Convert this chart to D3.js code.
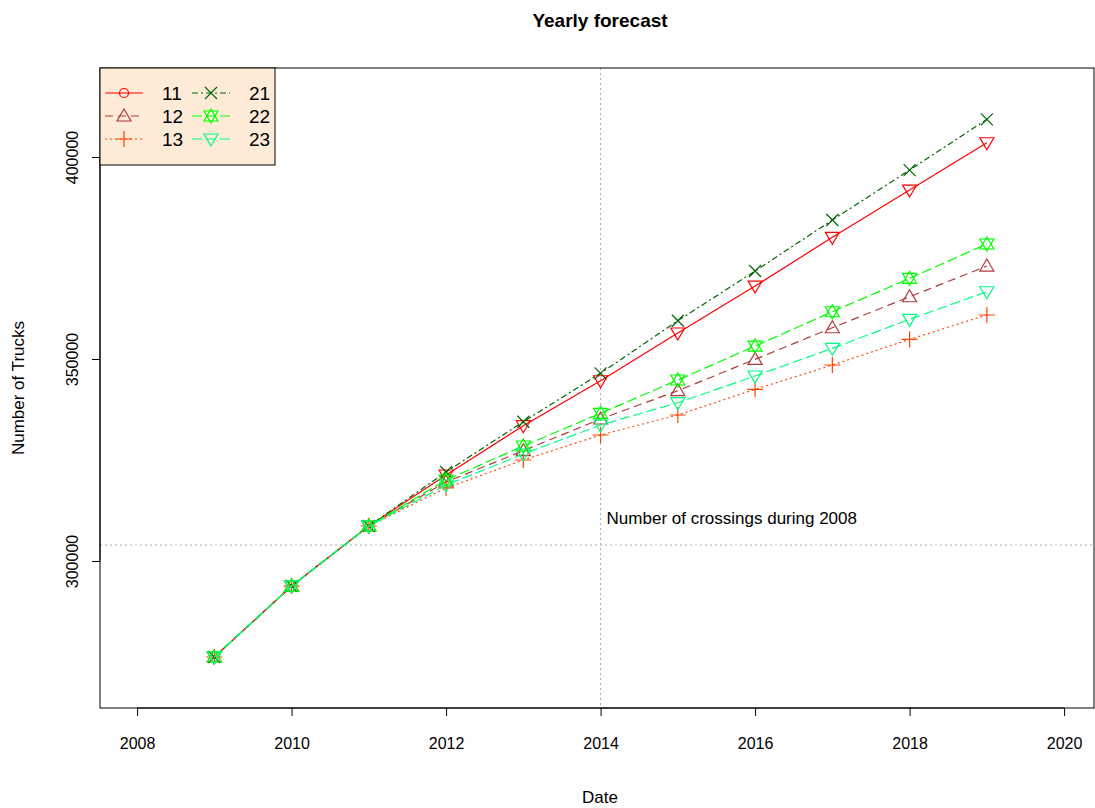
<!DOCTYPE html>
<html><head><meta charset="utf-8">
<script src="https://cdn.jsdelivr.net/npm/d3@7"></script>
<style>body{margin:0;background:#fff}text{font-family:"Liberation Sans",Arial,sans-serif}</style>
</head><body>
<script>
// data
var years = [2009,2010,2011,2012,2013,2014,2015,2016,2017,2018,2019];
var base = [276240,293800,308660];
var s11 = base.concat([321290,333490,344620,356430,368060,380120,391820,403530]);
var s12 = base.concat([319550,327300,335150,342150,349920,357740,365410,373010]);
var s13 = base.concat([318070,325000,331190,336140,342500,348510,354870,360890]);
var s21 = base.concat([322030,334480,346460,359470,371780,384400,396770,409320]);
var s22 = base.concat([320050,328460,336560,344800,353210,361700,369970,378460]);
var s23 = base.concat([318810,326480,333660,339180,345790,352640,359820,366650]);
var xTicks = [2008,2010,2012,2014,2016,2018,2020];
var yTicks = [300000,350000,400000];
var crossings2008 = 303960, refYear = 2014;

var series = [
  {name:"11", v:s11, color:"#ff0000", dash:null, mark:"tridown", legMark:"circle"},
  {name:"12", v:s12, color:"#b03a3a", dash:"8,5", mark:"triup"},
  {name:"13", v:s13, color:"#ff4500", dash:"2,3", mark:"plus"},
  {name:"21", v:s21, color:"#006400", dash:"6,3,2,3", mark:"x"},
  {name:"22", v:s22, color:"#00ff00", dash:"10,4", mark:"star"},
  {name:"23", v:s23, color:"#00ff7f", dash:"10,4", mark:"tridown"}
];

var W = 1095, H = 808;
var pL = 100, pT = 68, pR = 1095, pB = 708;
var svg = d3.select("body").append("svg").attr("width",W).attr("height",H);

var x = d3.scaleLinear().domain([2007.52,2020.4]).range([pL,pR]);
var y = d3.scaleLinear().domain([263614,422030]).range([pB,pT]);

function marker(g, type, cx, cy, color){
  var r = 6;
  if(type=="circle") g.append("circle").attr("cx",cx).attr("cy",cy).attr("r",4.5);
  else if(type=="triup") g.append("path").attr("d","M"+cx+","+(cy-7)+"L"+(cx+7)+","+(cy+5)+"L"+(cx-7)+","+(cy+5)+"Z");
  else if(type=="tridown") g.append("path").attr("d","M"+cx+","+(cy+7)+"L"+(cx+7)+","+(cy-5)+"L"+(cx-7)+","+(cy-5)+"Z");
  else if(type=="plus") g.append("path").attr("d","M"+(cx-8)+","+cy+"H"+(cx+8)+"M"+cx+","+(cy-8)+"V"+(cy+8));
  else if(type=="x") g.append("path").attr("d","M"+(cx-r)+","+(cy-r)+"L"+(cx+r)+","+(cy+r)+"M"+(cx-r)+","+(cy+r)+"L"+(cx+r)+","+(cy-r));
  else if(type=="star"){
    g.append("path").attr("d","M"+cx+","+(cy-7)+"L"+(cx+7)+","+(cy+5)+"L"+(cx-7)+","+(cy+5)+"Z");
    g.append("path").attr("d","M"+cx+","+(cy+7)+"L"+(cx+7)+","+(cy-5)+"L"+(cx-7)+","+(cy-5)+"Z");
  }
  g.selectAll("*").attr("fill","none").attr("stroke",color).attr("stroke-width",1.2);
}

// reference lines
svg.append("line").attr("x1",pL).attr("x2",pR).attr("y1",y(crossings2008)).attr("y2",y(crossings2008))
  .attr("stroke","#aaa").attr("stroke-dasharray","2,3");
svg.append("line").attr("x1",x(refYear)).attr("x2",x(refYear)).attr("y1",pT).attr("y2",pB)
  .attr("stroke","#aaa").attr("stroke-dasharray","2,3");
svg.append("text").attr("x",x(refYear)+6).attr("y",y(crossings2008)-21).attr("font-size",17)
  .text("Number of crossings during 2008");

var line = d3.line().x(function(d,i){return x(years[i]);}).y(function(d){return y(d);});
series.forEach(function(s){
  svg.append("path").attr("d",line(s.v)).attr("fill","none").attr("stroke",s.color)
    .attr("stroke-width",1.2).attr("stroke-dasharray",s.dash);
  s.v.forEach(function(d,i){ marker(svg.append("g"), s.mark, x(years[i]), y(d), s.color); });
});

// box
svg.append("rect").attr("x",pL).attr("y",pT).attr("width",pR-pL-1).attr("height",pB-pT)
  .attr("fill","none").attr("stroke","#000");

// axes
var xa = svg.append("g").attr("transform","translate(0,"+pB+")")
  .call(d3.axisBottom(x).tickValues(xTicks).tickFormat(d3.format("d")).tickSize(8).tickPadding(22));
xa.select(".domain").attr("d","M"+x(2008)+",0H"+x(2020));
var ya = svg.append("g").attr("transform","translate("+pL+",0)")
  .call(d3.axisLeft(y).tickValues(yTicks).tickFormat(d3.format("d")).tickSize(8));
ya.select(".domain").attr("d","M0,"+y(300000)+"V"+y(400000));
ya.selectAll(".tick text").attr("transform","rotate(-90)").attr("x",0).attr("y",-22)
  .attr("text-anchor","middle").attr("dy",0);
svg.selectAll(".tick text").attr("font-size",16).attr("fill","#000")
  .attr("font-family","Liberation Sans, Arial, sans-serif");

// titles
svg.append("text").attr("x",600).attr("y",27).attr("text-anchor","middle").attr("font-size",19)
  .attr("font-weight","bold").text("Yearly forecast");
svg.append("text").attr("x",600).attr("y",803).attr("text-anchor","middle").attr("font-size",17).text("Date");
svg.append("text").attr("transform","translate(24,388) rotate(-90)").attr("text-anchor","middle")
  .attr("font-size",17).text("Number of Trucks");

// legend
svg.append("rect").attr("x",pL).attr("y",pT).attr("width",175).attr("height",97)
  .attr("fill","#fdebd8").attr("stroke","#000");
series.forEach(function(s,i){
  var col = Math.floor(i/3), row = i%3;
  var lx = pL + 5 + col*87, ly = pT + 25 + row*23;
  svg.append("line").attr("x1",lx).attr("x2",lx+38).attr("y1",ly).attr("y2",ly)
    .attr("stroke",s.color).attr("stroke-width",1.2).attr("stroke-dasharray",s.dash);
  marker(svg.append("g"), s.legMark||s.mark, lx+19, ly, s.color);
  svg.append("text").attr("x",lx+57).attr("y",ly+7).attr("font-size",19).text(s.name);
});
</script>
</body></html>
